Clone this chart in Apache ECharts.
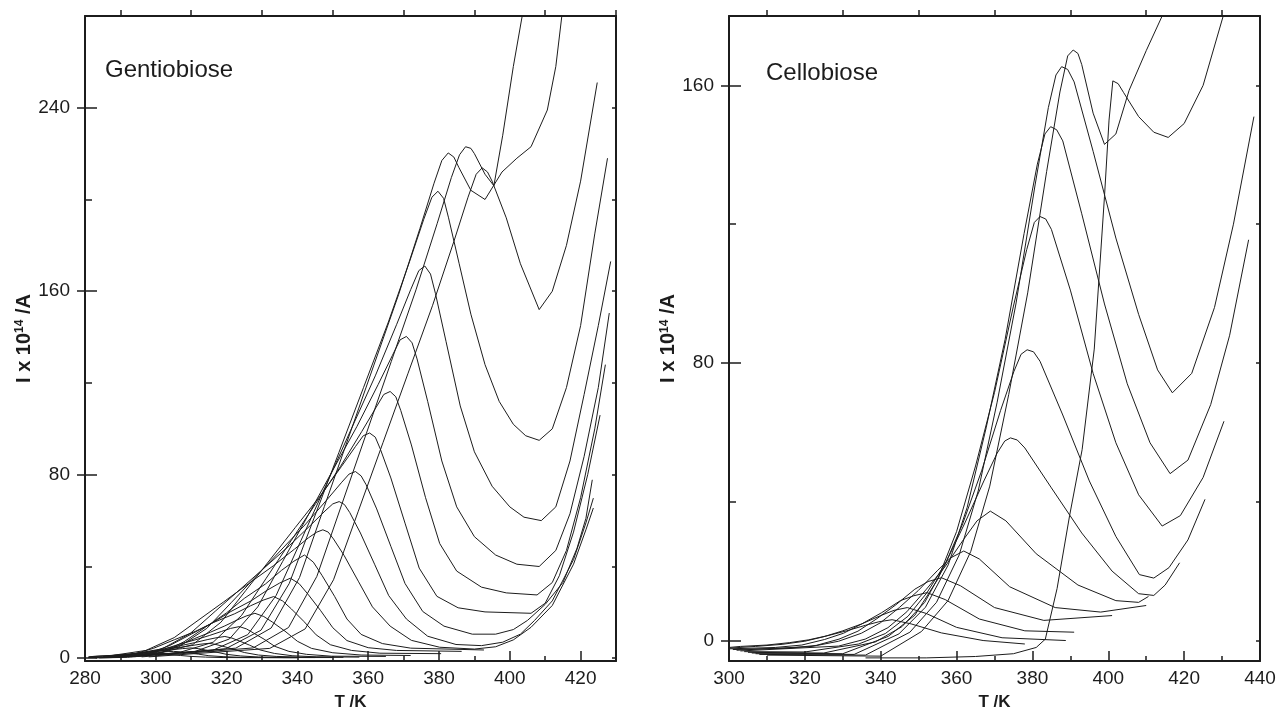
<!DOCTYPE html>
<html>
<head>
<meta charset="utf-8">
<script src="https://cdn.jsdelivr.net/npm/echarts@6/dist/echarts.min.js"></script>
<style>
html, body { margin: 0; padding: 0; background: #fff; }
#chart { width: 1277px; height: 710px; }
</style>
</head>
<body>
<div id="chart"></div>
<script>
// ---- Gentiobiose: TSDC curves, [T /K, I x 1e14 /A] ----
const g01 = [[281,0.6],[283,0.9],[287.5,1.2],[291.5,1.4],[295,1.7],[297.5,1.9],[300,2],[302,1.9],[304,1.6],[307,1.2],[310,0.8],[314,0.5],[319,0.3],[340,0.2]]
const g02 = [[281,0.5],[284,0.9],[288,1.3],[292.5,1.7],[296.5,2.2],[300,2.6],[302.5,2.8],[305,3],[307,2.8],[309,2.4],[312,1.8],[315,1.1],[319,0.7],[324,0.4],[345,0.3]]
const g03 = [[281,0.4],[285,0.7],[289,1.35],[293,2],[297.5,2.6],[301.5,3.25],[305,3.8],[307.5,4.2],[310,4.5],[312,4.2],[314,3.6],[317,2.7],[320,1.7],[324,1],[329,0.55],[336,0.3],[350,0.3]]
const g04 = [[281,0.3],[285,0.4],[290,1],[294,1.95],[298,2.9],[302.5,3.8],[306.5,4.7],[310,5.5],[312.5,6.1],[315,6.5],[317,6],[319,5.2],[322,3.9],[325,2.5],[329,1.4],[334,0.8],[341,0.5],[353,0.4]]
const g05 = [[283.5,0.3],[289.5,0.6],[294.5,1.5],[298.5,2.85],[302.5,4.2],[307,5.5],[311,6.8],[314.5,8.1],[317,8.9],[319.5,9.5],[321.5,8.8],[323.5,7.6],[326.5,5.7],[329.5,3.6],[333.5,2.1],[338.5,1.1],[345.5,0.6],[357.5,0.5]]
const g06 = [[283,0.15],[287.6,0.3],[293.6,0.83],[298.6,2.2],[302.6,4.1],[306.6,6.1],[311.1,8],[315.1,9.9],[318.6,11.7],[321.1,13],[323.6,13.8],[325.6,12.8],[327.6,11],[330.6,8.3],[333.6,5.2],[337.6,3],[342.6,1.7],[349.6,0.9],[365,0.8]]
const g07 = [[284,0.15],[292,0.4],[298,1.2],[303,3.1],[307,5.9],[311,8.6],[315.5,11.4],[319.5,14.1],[323,16.7],[325.5,18.4],[328,19.6],[330.5,18.2],[333,15.7],[336.5,11.8],[340,7.4],[344,4.3],[350,2.4],[358,1.4],[372,1.2]]
const g08 = [[285.3,0.54],[293.3,1.6],[299.3,4.3],[305.3,8.1],[311.3,11.8],[316.3,15.6],[322.3,19.4],[326.8,22.9],[330.3,25.3],[333.3,26.9],[335.8,25],[338.3,21.5],[341.8,16.1],[345.3,10.2],[349.3,5.9],[355.3,3.4],[363.3,2.2],[380.6,2]]
const g09 = [[286,0.4],[290,0.7],[298,2.1],[304,5.6],[310,10.5],[316,15.4],[321,20.2],[327,25.1],[331.5,29.7],[335,32.8],[338,34.9],[340.5,32.5],[343,27.9],[346.5,20.9],[350,13.3],[354,7.7],[360,4.6],[368,3.4],[386.4,3]]
const g10 = [[287,0.5],[294,0.9],[302,2.7],[308,7.2],[314,13.5],[320,19.8],[325,26.1],[331,32.4],[335.5,38.3],[339,42.3],[342,45],[344.5,41.9],[347,36],[350.5,27],[354,17.1],[358,10.4],[364,6.4],[372,4.4],[392.7,3.6]]
const g11 = [[287.2,1.1],[297.2,3.4],[305.2,9],[312.2,16.8],[319.2,24.6],[326.2,32.5],[333.2,40.3],[339.2,47.6],[343.2,52.6],[345.5,55],[347.2,56],[348.7,55],[350.2,52],[353.2,44.8],[357.2,33.6],[361.2,22.4],[366.2,14],[372.2,7.8],[380.2,4.8],[390,4],[396,5],[401,8],[406,13.5],[412,23],[418,41],[421.5,56],[423.6,65.5]]
const g12 = [[291.8,1.4],[301.8,4.1],[309.8,10.9],[316.8,20.5],[323.8,30],[330.8,39.6],[337.8,49.2],[343.8,58.1],[347.8,64.2],[350,67.3],[351.8,68.3],[353.3,67],[354.8,63.5],[357.8,54.6],[361.8,41],[365.8,27.3],[370.8,17.1],[376.8,9.6],[384.8,6],[392,5.5],[398,7],[403,10.5],[407,16.5],[412,25],[418,43],[421.5,59],[423.6,69.8]]
const g13 = [[288,0.8],[296.4,1.6],[306.4,4.9],[314.4,13],[321.4,24.4],[328.4,35.8],[335.4,47.2],[342.4,58.6],[348.4,69.2],[352.4,76.5],[354.6,80.3],[356.4,81.4],[358,79.5],[359.4,75.7],[362.4,65.1],[366.4,48.8],[370.4,32.6],[375.4,20.4],[381.4,14],[389.4,10.5],[396,10.5],[401,12.5],[405,16.5],[410,23.5],[415,33],[419,48],[421.5,61],[423.3,77.8]]
const g14 = [[289,0.8],[300.4,2],[310.4,5.9],[318.4,15.7],[325.4,29.5],[332.4,43.2],[339.4,57],[346.4,70.7],[352.4,83.5],[356.4,92.3],[358.6,97],[360.4,98.2],[362,96.4],[363.4,91.3],[366.4,78.6],[370.4,58.9],[374.4,39.3],[379.4,27],[385.4,22],[393,20.2],[406,19.6],[410,24],[414,36],[418,55],[422,80],[425.5,106]]
const g15 = [[290,0.8],[306.2,2.3],[316.2,7],[324.2,18.6],[331.2,34.9],[338.2,51.2],[345.2,67.5],[352.2,83.7],[358.2,98.9],[362.2,109.3],[364.4,115],[366.2,116.3],[367.8,114],[369.2,108],[372.2,93],[376.2,70],[380.2,50],[385,38],[392,31],[399,28.5],[407.7,27.6],[412,33],[416,47],[420,70],[424,100],[427,128]]
const g16 = [[291,0.8],[310.8,2.8],[320.8,8.4],[328.8,22.4],[335.8,42.1],[342.8,61.7],[349.8,81.4],[356.8,101],[362.8,119.3],[366.8,131.9],[369,138.8],[370.8,140.3],[372.4,137.5],[373.8,130.5],[376.8,112],[380.8,86],[385,66],[390,53],[396,45],[402,41],[408.3,40],[413,47],[417,63],[421,88],[425,118],[428.1,150.5]]
const g17 = [[292,0.7],[316,3.4],[326,10.3],[334,27.4],[341,51.3],[348,75.2],[355,99.2],[362,123.1],[368,145.4],[372,160.7],[374.3,169],[376,171],[377.6,167.5],[379,159],[382,138],[386,110],[390,90],[395,75],[400,66],[404,61.5],[408.9,60],[413,66],[417,86],[421,115],[425,145],[428.5,173]]
const g18 = [[293,0.7],[319.7,4.1],[329.7,12.2],[337.7,32.6],[344.7,61.1],[351.7,89.6],[358.7,118.1],[365.7,146.6],[371.7,173],[375.7,191.4],[378,201],[379.7,203.6],[381.3,200.5],[382.7,192],[385.7,172],[389,150],[393,128],[397,112],[401,102],[404.5,97],[408.3,95],[412,100],[416,118],[420,145],[424,185],[427.6,218]]
const g19 = [[294,0.7],[322.6,4.4],[332.6,13.2],[340.6,35.2],[347.6,66.1],[354.6,96.9],[361.6,127.8],[368.6,158.6],[374.6,187.3],[378.6,207.1],[380.8,217],[382.6,220.3],[384.2,218.5],[385.6,214],[389,204],[393,200],[397.8,212],[402,218],[406,223],[410.6,239],[413,258],[414.7,280],[416,292]]
const g20 = [[296,0.6],[327.5,4.5],[337.5,13.4],[345.5,35.7],[352.5,66.9],[359.5,98.1],[366.5,129.3],[373.5,160.6],[379.5,189.6],[383.5,209.6],[385.8,219.5],[387.5,223],[389,222.3],[390,220],[393,211],[395.5,206],[398,228],[401,258],[403.5,280],[405,292]]
const g21 = [[298,0.6],[332.2,4.3],[342.2,12.8],[350.2,34.2],[357.2,64.1],[364.2,94.1],[371.2,124],[378.2,153.9],[384.2,181.7],[388.2,201],[390.5,211],[392.2,213.8],[393.7,212],[395,208],[399,192],[403,172],[408.3,152],[412,160],[416,180],[420,208],[424.7,251]]

// ---- Cellobiose ----
const c01 = [[300,-2],[303,-1.7],[310,-1.3],[316,-0.6],[321,0.2],[326,1.4],[331,2.8],[336,4.4],[339.5,5.4],[343,6],[348,4.8],[356,2.2],[367,0],[378,-1]]
const c02 = [[300,-2.2],[307,-1.7],[314,-1.1],[320,-0.2],[325,1.1],[330,2.8],[335,4.8],[340,7.2],[343.5,8.7],[347,9.5],[352,7.8],[360,3.8],[372,0.8],[388.8,0]]
const c03 = [[300,-2.4],[312.2,-2],[319.2,-1.3],[325.2,0.3],[330.2,2.1],[335.2,4.9],[340.2,8],[345.2,11.5],[348.7,12.9],[352.2,13.8],[357,11.8],[366,6.2],[378,2.8],[391,2.4]]
const c04 = [[301,-2.6],[316,-2.2],[323,-1.4],[329,0.4],[334,2.7],[339,6.3],[344,10.3],[349,14.8],[352.5,17],[356,18.1],[361,15.8],[370,9.5],[383,5.8],[401,7.2]]
const c05 = [[302,-2.8],[321.9,-1.7],[328.9,-0.2],[334.9,2.1],[339.9,5.1],[344.9,9.5],[349.9,14.4],[354.9,20.1],[358.4,23.8],[361.9,25.8],[366,23.5],[374,15.5],[386,9.5],[398,8.2],[410,10.1]]
const c06 = [[303,-3],[328.9,-1.6],[335.9,0.4],[341.9,3.7],[346.9,8.3],[351.9,14.6],[356.9,21.2],[361.9,29.2],[365.4,34.5],[368.9,37.3],[373,34.5],[381,25],[392,16],[402,11.5],[408,11],[410.6,12.7]]
const c07 = [[304,-3.2],[320,-3.3],[334.2,-1],[341.2,2],[347.2,7],[352.2,13.8],[357.2,22.5],[362.2,33.9],[367.2,46],[370.7,54],[372.7,57.5],[374.2,58.4],[376,57.8],[378,55.5],[385,44],[393,31],[401,20],[408,13.5],[412,13],[415,16],[418.8,22.4]]
const c08 = [[305,-3.4],[325,-3.6],[338.6,-0.4],[345.6,4],[351.6,11],[356.6,21],[361.6,33.6],[366.6,48.9],[371.6,66.3],[375.1,77.5],[377,82.5],[378.6,83.8],[380.3,83.2],[382,80.5],[388,65],[395,46],[402,30],[408.2,19],[412,18],[416,21],[421,29],[425.5,40.7]]
const c09 = [[306,-3.6],[330,-3.8],[342,1.2],[349,7.3],[355,17.6],[360,31.4],[365,50.3],[370,71.5],[375,96.4],[378.5,112.7],[380.5,120.5],[382,122.2],[383.5,121.5],[385,118.5],[390,101],[396,77],[402,57],[408,42],[414.2,33],[419,36],[425,47],[430.5,63.2]]
const c10 = [[307,-3.8],[333,-4],[344.8,1.9],[351.8,9.6],[357.8,21.8],[362.8,38.4],[367.8,61.3],[372.8,86.8],[377.8,117.3],[381.3,137.3],[383.3,146],[384.8,148.1],[386.4,147.2],[388,144],[393,123],[399,97],[405,74],[411,57],[416.3,48.1],[421,52],[427,68],[432,88],[437,115.5]]
const c11 = [[308,-4],[336,-4.2],[347.7,2.4],[354.7,11],[360.7,24.7],[365.7,43.1],[370.7,68.7],[375.7,97.3],[380.7,131.3],[384.2,153.6],[386.2,163],[387.7,165.4],[389.3,164.6],[391,161],[396,141],[402,116],[408,94],[413,78],[416.9,71.4],[422,77],[428,96],[433,120],[438.4,151]]
const c12 = [[310,-4.2],[340,-4.5],[350.75,2.6],[357.75,11.5],[363.75,25.7],[368.75,44.5],[373.75,70.9],[378.75,100.2],[383.75,135.2],[387.25,158.1],[389.3,168.5],[390.75,170.2],[392,169.2],[393,166],[396,152],[399,143],[402,146],[405.5,158.6],[410,170],[414.2,180],[416,186]]
const c13 = [[336,-5],[352,-5],[365,-4.6],[375,-3.8],[381,-2],[383.4,0.4],[386.5,15],[389.8,36],[393.1,55],[396.3,84],[399,128],[400.2,150],[401.2,161.3],[402.6,160.5],[404,158],[408,151],[412,146.5],[415.8,145],[420,149],[425,160],[430.3,180],[432,186]]

const gentiobiose = [g01,g02,g03,g04,g05,g06,g07,g08,g09,g10,g11,g12,g13,g14,g15,g16,g17,g18,g19,g20,g21]
const cellobiose = [c01,c02,c03,c04,c05,c06,c07,c08,c09,c10,c11,c12,c13]

// axis ticks / labels
const gXLabels = [280,300,320,340,360,380,400,420]
const gXMinor = [290,310,330,350,370,390,410]
const gXTop = [290,310,330,350,370,390,410,430]
const gYLabels = [0,80,160,240]
const gYMinor = [40,120,200]
const gYRight = [0,40,80,120,160,200,240]

const cXLabels = [300,320,340,360,380,400,420,440]
const cXMinor = [310,330,350,370,390,410,430]
const cXTop = [310,330,350,370,390,410,430]
const cYLabels = [0,80,160]
const cYMinor = [40,120]
const cYRight = [0,40,80,120,160]

const ink = '#1c1c1c'
const font = 'Liberation Sans'

let myChart = echarts.init(document.getElementById('chart'))

const tickAxis = (grid, pos, min, max, values, inside, len, lineShow) => ({
    type: 'value', gridIndex: grid, position: pos, min: min, max: max,
    splitLine: { show: false },
    axisLine: { show: lineShow, onZero: false, lineStyle: { color: ink, width: 2 } },
    axisTick: { show: true, inside: inside, length: len, customValues: values, lineStyle: { color: ink, width: 1.5 } },
    axisLabel: { show: false }
})

const panelAxes = (grid, xr, yr, ax) => {
    const xMain = tickAxis(grid, 'bottom', xr[0], xr[1], ax.xLabels, true, 10, true)
    xMain.axisLabel = { show: true, customValues: ax.xLabels, fontSize: 19, color: ink, fontFamily: font, margin: 8 }
    xMain.name = 'T /K'
    xMain.nameLocation = 'middle'
    xMain.nameGap = 33
    xMain.nameTextStyle = { fontSize: 17, fontWeight: 'bold', color: ink, fontFamily: font }

    const yMain = tickAxis(grid, 'left', yr[0], yr[1], ax.yLabels, false, 8, true)
    yMain.axisLabel = { show: true, customValues: ax.yLabels, fontSize: 19, color: ink, fontFamily: font, margin: 15 }
    yMain.name = 'I x 10{sup|14} /A'
    yMain.nameLocation = 'middle'
    yMain.nameGap = ax.nameGap
    yMain.nameTextStyle = {
        fontSize: 20, fontWeight: 'bold', color: ink, fontFamily: font, lineHeight: 20,
        rich: { sup: { fontSize: 12, fontWeight: 'bold', color: ink, fontFamily: font, verticalAlign: 'top', lineHeight: 12 } }
    }
    return {
        x: [
            xMain,
            tickAxis(grid, 'bottom', xr[0], xr[1], ax.xMinor, true, 5, false),
            tickAxis(grid, 'top', xr[0], xr[1], ax.xTop, false, 6, true)
        ],
        y: [
            yMain,
            tickAxis(grid, 'left', yr[0], yr[1], ax.yLabels, true, 12, false),
            tickAxis(grid, 'left', yr[0], yr[1], ax.yMinor, true, 7, false),
            tickAxis(grid, 'right', yr[0], yr[1], ax.yRight, true, 4, true)
        ]
    }
}

const left = panelAxes(0, [280, 430], [-1.2, 280], {
    xLabels: gXLabels, xMinor: gXMinor, xTop: gXTop,
    yLabels: gYLabels, yMinor: gYMinor, yRight: gYRight, nameGap: 51
})
const right = panelAxes(1, [300, 440], [-5.9, 180], {
    xLabels: cXLabels, xMinor: cXMinor, xTop: cXTop,
    yLabels: cYLabels, yMinor: cYMinor, yRight: cYRight, nameGap: 46
})

const curveSeries = (data, xi, yi) => ({
    type: 'line', data: data, xAxisIndex: xi, yAxisIndex: yi,
    showSymbol: false, symbol: 'none', animation: false, silent: true,
    lineStyle: { color: ink, width: 1 }, z: 1
})

const option = {
    backgroundColor: '#fff',
    animation: false,
    title: [
        { text: 'Gentiobiose', left: 105, top: 58, padding: 0,
          textStyle: { fontSize: 24, fontWeight: 'normal', color: ink, fontFamily: font } },
        { text: 'Cellobiose', left: 766, top: 61, padding: 0,
          textStyle: { fontSize: 24, fontWeight: 'normal', color: ink, fontFamily: font } }
    ],
    grid: [
        { left: 85, top: 16, width: 531, height: 645, containLabel: false, outerBoundsMode: 'none' },
        { left: 729, top: 16, width: 531, height: 645, containLabel: false, outerBoundsMode: 'none' }
    ],
    xAxis: left.x.concat(right.x),
    yAxis: left.y.concat(right.y),
    series: gentiobiose.map(d => curveSeries(d, 0, 0))
        .concat(cellobiose.map(d => curveSeries(d, 3, 4)))
}

myChart.setOption(option)
</script>
</body>
</html>
